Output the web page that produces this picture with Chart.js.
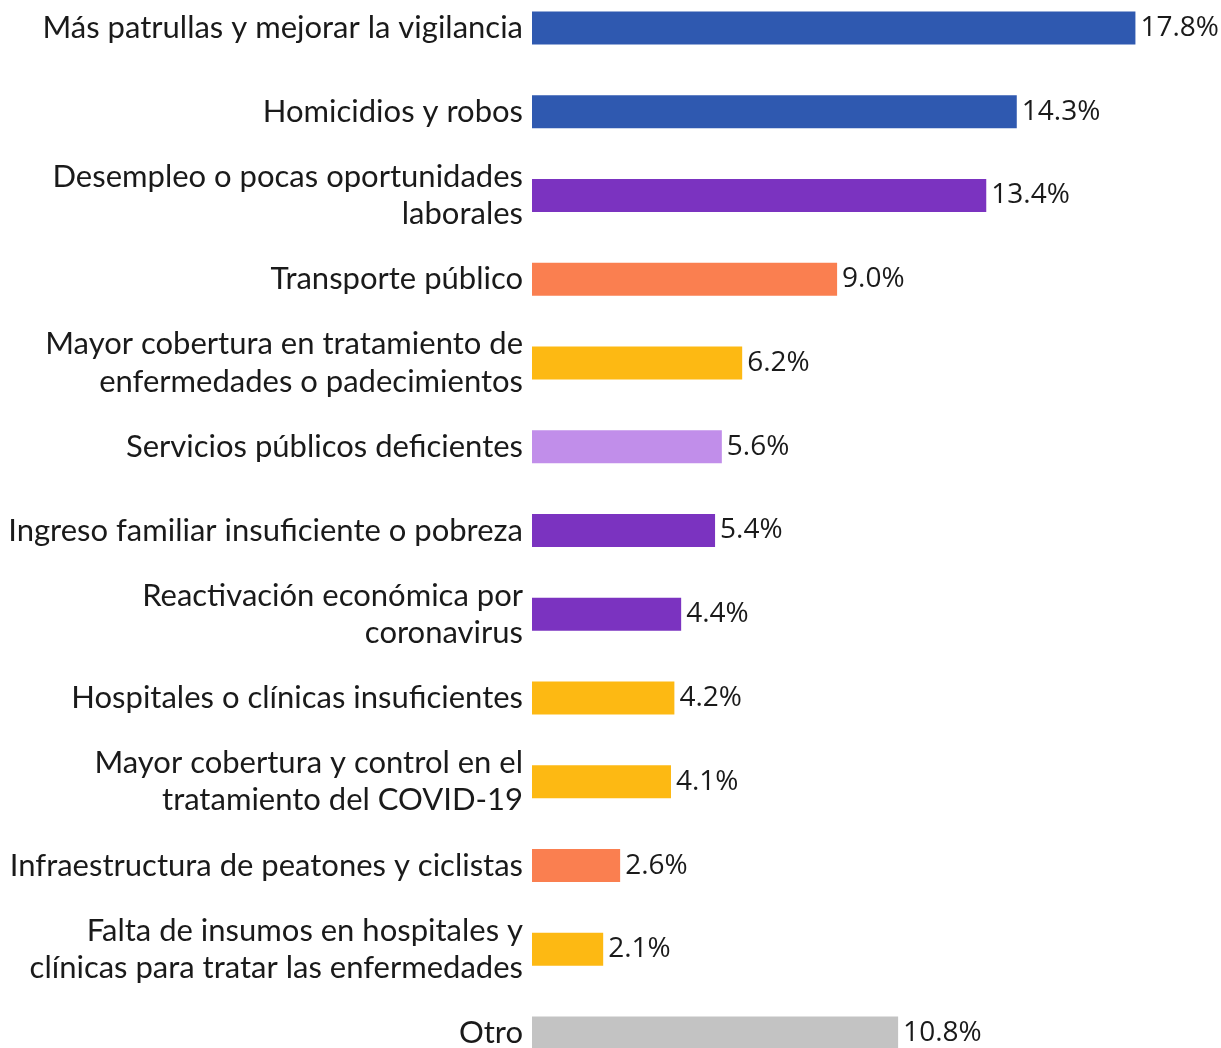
<!DOCTYPE html>
<html>
<head>
<meta charset="utf-8">
<script src="https://cdn.jsdelivr.net/npm/chart.js@4.4.1/dist/chart.umd.min.js"></script>
<style>
    html, body { margin: 0; padding: 0; background: #ffffff; overflow: hidden; }
    #wrap { position: absolute; left: 0; top: -14px; width: 1221px; height: 1089px; }
</style>
</head>
<body>
<div id="wrap"><canvas id="chart"></canvas></div>
<script>
const categories = [
    'Más patrullas y mejorar la vigilancia',
    'Homicidios y robos',
    ['Desempleo o pocas oportunidades', 'laborales'],
    'Transporte público',
    ['Mayor cobertura en tratamiento de', 'enfermedades o padecimientos'],
    'Servicios públicos deficientes',
    'Ingreso familiar insuficiente o pobreza',
    ['Reactivación económica por', 'coronavirus'],
    'Hospitales o clínicas insuficientes',
    ['Mayor cobertura y control en el', 'tratamiento del COVID-19'],
    'Infraestructura de peatones y ciclistas',
    ['Falta de insumos en hospitales y', 'clínicas para tratar las enfermedades'],
    'Otro'
];
const percentages = [17.8, 14.3, 13.4, 9.0, 6.2, 5.6, 5.4, 4.4, 4.2, 4.1, 2.6, 2.1, 10.8];
const barColors = [
    '#2f59b0', '#2f59b0', '#7b33c0', '#fa7f50', '#fdb913', '#c18eea', '#7b33c0',
    '#7b33c0', '#fdb913', '#fdb913', '#fa7f50', '#fdb913', '#c3c3c3'
];

// etiquetas de valor al final de cada barra
const valueLabels = {
    id: 'valueLabels',
    afterDatasetsDraw(chart) {
        const ctx = chart.ctx;
        const meta = chart.getDatasetMeta(0);
        ctx.save();
        ctx.font = '28px "Open Sans", sans-serif';
        ctx.fillStyle = '#1a1a1a';
        ctx.textAlign = 'left';
        ctx.textBaseline = 'middle';
        meta.data.forEach((bar, i) => {
            ctx.fillText(percentages[i].toFixed(1) + '%', bar.x + 5, bar.y);
        });
        ctx.restore();
    }
};

new Chart(document.getElementById('chart'), {
    type: 'bar',
    data: {
        labels: categories,
        datasets: [{
            data: percentages,
            backgroundColor: barColors,
            borderWidth: 0,
            categoryPercentage: 1,
            barPercentage: 0.394
        }]
    },
    options: {
        indexAxis: 'y',
        responsive: true,
        maintainAspectRatio: false,
        animation: false,
        layout: { padding: { left: 0, right: 11, top: 0, bottom: 0 } },
        scales: {
            x: {
                display: false,
                min: 0,
                max: 20
            },
            y: {
                grid: { display: false, drawTicks: false },
                border: { display: false },
                ticks: {
                    color: '#1a1a1a',
                    padding: 9,
                    font: { family: 'Lato, sans-serif', size: 31, lineHeight: 1.2 }
                },
                afterFit(scale) {
                    scale.width = 532;
                    scale.paddingTop = 0;
                    scale.paddingBottom = 0;
                }
            }
        },
        plugins: {
            legend: { display: false },
            tooltip: { enabled: false }
        }
    },
    plugins: [valueLabels]
});
</script>
</body>
</html>
